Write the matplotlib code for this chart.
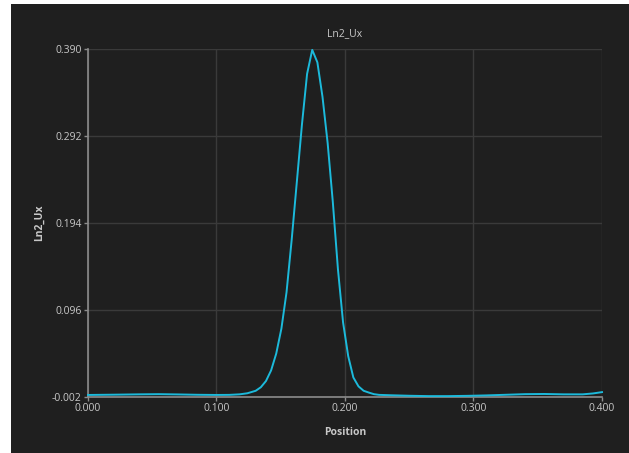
import matplotlib
matplotlib.use("Agg")
import matplotlib.pyplot as plt
from matplotlib.patches import Rectangle
from matplotlib.ticker import FormatStrFormatter

# ── Line profile: Ln2_Ux along position ──
position = [
    0.000, 0.020, 0.040, 0.055, 0.070, 0.085, 0.100, 0.110, 0.118, 0.124,
    0.1305, 0.1345, 0.1385, 0.1425, 0.1465, 0.1505, 0.1545, 0.1585, 0.1625,
    0.1665, 0.1705, 0.1745, 0.1785, 0.1825, 0.1865, 0.1905, 0.1945, 0.1985,
    0.2025, 0.2065, 0.2105, 0.2145, 0.2185, 0.2225, 0.2265, 0.235, 0.250,
    0.265, 0.280, 0.295, 0.310, 0.325, 0.340, 0.355, 0.370, 0.385, 0.393,
    0.400,
]
ln2_ux = [
    0.0003, 0.0006, 0.0010, 0.0012, 0.0009, 0.0005, 0.0003, 0.0004, 0.0010, 0.0022,
    0.0050, 0.0090, 0.0160, 0.0280, 0.0470, 0.0750, 0.1160, 0.1750, 0.2400,
    0.3050, 0.3620, 0.3890, 0.3750, 0.3360, 0.2840, 0.2180, 0.1420, 0.0820,
    0.0440, 0.0200, 0.0100, 0.0050, 0.0030, 0.0012, 0.0004, 0.0000, -0.0006,
    -0.0010, -0.0010, -0.0007, -0.0002, 0.0005, 0.0012, 0.0014, 0.0010, 0.0010, 0.0020,
    0.0035,
]

x_ticks = [0.0, 0.1, 0.2, 0.3, 0.4]
y_ticks = [-0.002, 0.096, 0.194, 0.292, 0.390]

BG = "#1f1f1f"
GRID = "#3a3a3a"
AXIS = "#8c8c8c"
TEXT = "#c8c8c8"
LINE = "#1cbadb"

plt.rcParams["font.family"] = ["Open Sans", "DejaVu Sans"]

fig = plt.figure(figsize=(6.29, 4.53), dpi=100, facecolor="white")
# dark panel behind the chart
panel = Rectangle((11 / 629, 0), 1, 1 - 4 / 453, transform=fig.transFigure,
                  facecolor=BG, edgecolor="none", zorder=-10)
fig.add_artist(panel)

ax = fig.add_axes([88 / 629, 1 - 397 / 453, 514 / 629, 348 / 453])
ax.set_zorder(5)
ax.set_facecolor(BG)

ax.plot(position, ln2_ux, color=LINE, linewidth=1.4, zorder=3, clip_on=False)

ax.set_xlim(x_ticks[0], x_ticks[-1])
ax.set_ylim(y_ticks[0], y_ticks[-1])
ax.set_xticks(x_ticks)
ax.set_yticks(y_ticks)
ax.xaxis.set_major_formatter(FormatStrFormatter("%.3f"))
ax.yaxis.set_major_formatter(FormatStrFormatter("%.3f"))

ax.grid(True, color=GRID, linewidth=1.0)
ax.set_axisbelow(True)

for side in ["top", "right"]:
    ax.spines[side].set_visible(False)
for side in ["left", "bottom"]:
    ax.spines[side].set_color(AXIS)
    ax.spines[side].set_linewidth(1.2)

ax.tick_params(colors=AXIS, labelcolor=TEXT, labelsize=7.5, length=3, width=1, pad=1.5)

ax.set_title("Ln2_Ux", color=TEXT, fontsize=7.5, pad=9)
ax.set_xlabel("Position", color=TEXT, fontsize=7.5, fontweight="bold", labelpad=9)
ax.set_ylabel("Ln2_Ux", color=TEXT, fontsize=7.5, fontweight="bold", labelpad=5)

fig.savefig("out.png", dpi=100, facecolor=fig.get_facecolor())
